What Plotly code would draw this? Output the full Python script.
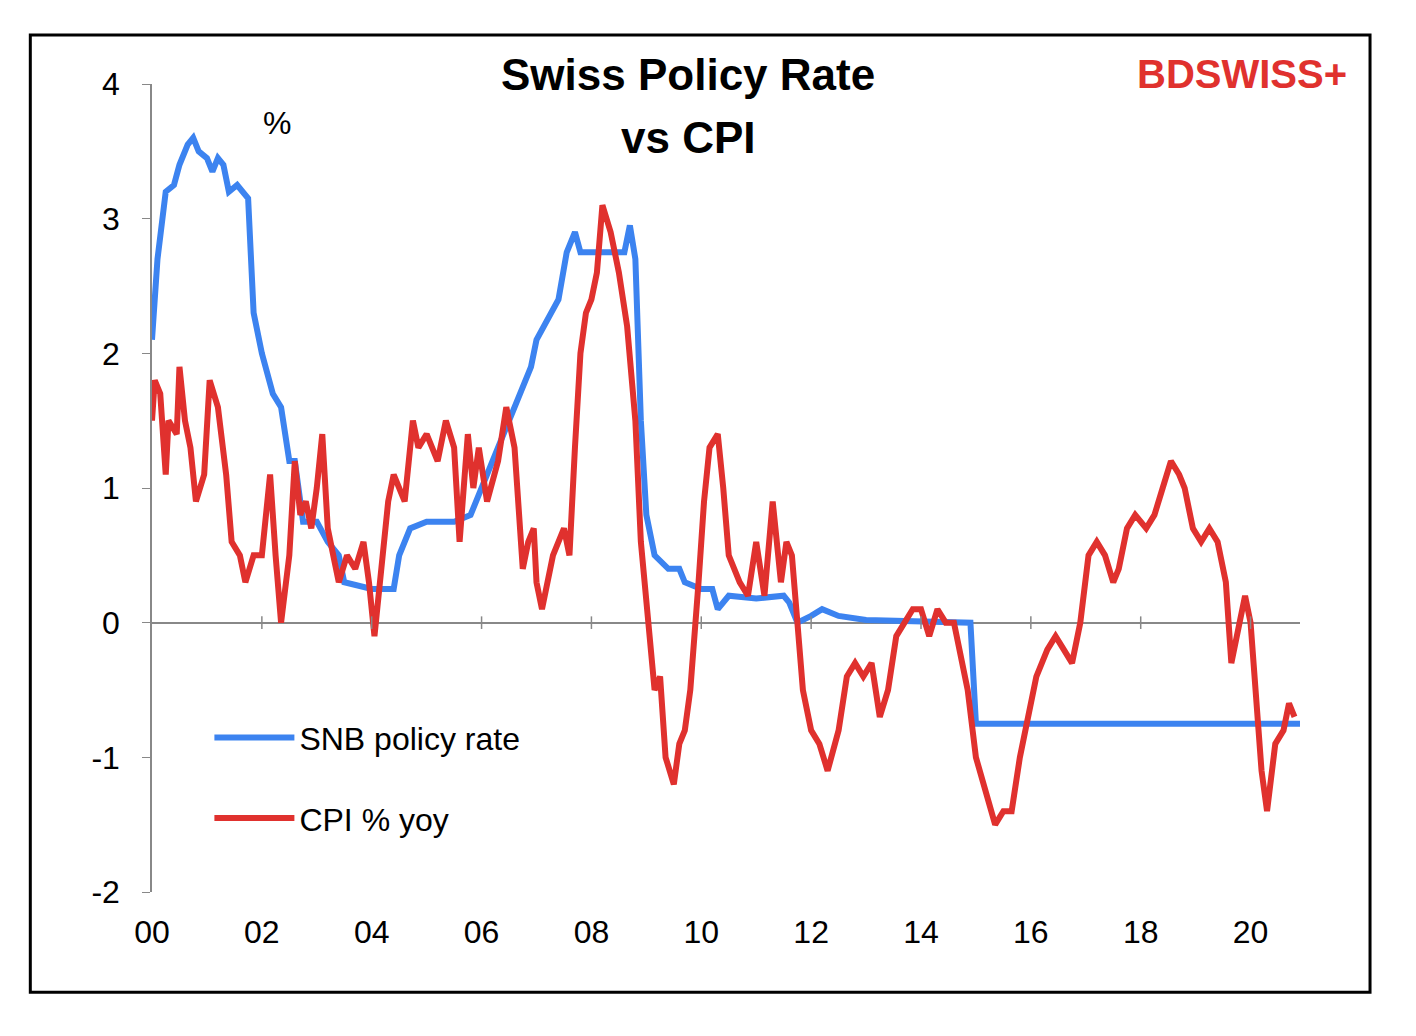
import plotly.graph_objects as go

# SNB policy rate, % (decimal year, value)
snb_x = [2000.0, 2000.1, 2000.25, 2000.4, 2000.5, 2000.65, 2000.75, 2000.85, 2001.0, 2001.1, 2001.2, 2001.3,
         2001.4, 2001.55, 2001.75, 2001.85, 2002.0, 2002.2, 2002.35, 2002.5, 2002.6, 2002.75, 2003.0, 2003.2,
         2003.4, 2003.5, 2004.0, 2004.4, 2004.5, 2004.7, 2005.0, 2005.5, 2005.8, 2006.0, 2006.3, 2006.5,
         2006.7, 2006.9, 2007.0, 2007.2, 2007.4, 2007.55, 2007.7, 2007.8, 2008.0, 2008.6, 2008.7, 2008.8, 2008.9,
         2009.0, 2009.15, 2009.4, 2009.6, 2009.7, 2010.0, 2010.2, 2010.3, 2010.5, 2011.0, 2011.5, 2011.6,
         2011.75, 2012.0, 2012.2, 2012.5, 2013.0, 2014.9, 2015.0, 2020.9]
snb_y = [2.1, 2.7, 3.2, 3.25, 3.4, 3.55, 3.6, 3.5, 3.45, 3.35, 3.45, 3.4,
         3.2, 3.25, 3.15, 2.3, 2.0, 1.7, 1.6, 1.2, 1.2, 0.75, 0.75, 0.6,
         0.5, 0.3, 0.25, 0.25, 0.5, 0.7, 0.75, 0.75, 0.8, 1.0, 1.3, 1.5,
         1.7, 1.9, 2.1, 2.25, 2.4, 2.75, 2.9, 2.75, 2.75, 2.75, 2.95, 2.7, 1.5,
         0.8, 0.5, 0.4, 0.4, 0.3, 0.25, 0.25, 0.1, 0.2, 0.18, 0.2, 0.15,
         0.0, 0.05, 0.1, 0.05, 0.02, 0.0, -0.75, -0.75]

# CPI % yoy (decimal year, value)
cpi_x = [2000.0, 2000.05, 2000.15, 2000.25, 2000.3, 2000.45, 2000.5, 2000.6, 2000.7, 2000.8, 2000.95, 2001.05,
         2001.2, 2001.35, 2001.45, 2001.6, 2001.7, 2001.85, 2002.0, 2002.15, 2002.25, 2002.35, 2002.5, 2002.6,
         2002.7, 2002.8, 2002.9, 2003.0, 2003.1, 2003.2, 2003.3, 2003.4, 2003.55, 2003.7, 2003.85, 2003.95,
         2004.05, 2004.2, 2004.3, 2004.4, 2004.6, 2004.75, 2004.85, 2005.0, 2005.2, 2005.35, 2005.5, 2005.6,
         2005.75, 2005.85, 2005.95, 2006.1, 2006.3, 2006.45, 2006.6, 2006.75, 2006.85, 2006.95, 2007.0, 2007.1,
         2007.3, 2007.5, 2007.6, 2007.7, 2007.8, 2007.9, 2008.0, 2008.1, 2008.2, 2008.35, 2008.5, 2008.65,
         2008.8, 2008.9, 2009.0, 2009.15, 2009.25, 2009.35, 2009.5, 2009.6, 2009.7, 2009.8, 2009.95, 2010.05,
         2010.15, 2010.3, 2010.4, 2010.5, 2010.7, 2010.85, 2011.0, 2011.15, 2011.3, 2011.45, 2011.55, 2011.65,
         2011.75, 2011.85, 2012.0, 2012.15, 2012.3, 2012.5, 2012.65, 2012.8, 2012.95, 2013.1, 2013.25, 2013.4,
         2013.55, 2013.7, 2013.85, 2014.0, 2014.15, 2014.3, 2014.45, 2014.6, 2014.75, 2014.85, 2015.0, 2015.15,
         2015.35, 2015.5, 2015.65, 2015.8, 2015.95, 2016.1, 2016.3, 2016.45, 2016.6, 2016.75, 2016.9, 2017.05,
         2017.2, 2017.35, 2017.5, 2017.6, 2017.75, 2017.9, 2018.1, 2018.25, 2018.4, 2018.55, 2018.7, 2018.8,
         2018.95, 2019.1, 2019.25, 2019.4, 2019.55, 2019.65, 2019.8, 2019.9, 2020.0, 2020.1, 2020.2, 2020.3,
         2020.45, 2020.6, 2020.7, 2020.8]
cpi_y = [1.5, 1.8, 1.7, 1.1, 1.5, 1.4, 1.9, 1.5, 1.3, 0.9, 1.1, 1.8,
         1.6, 1.1, 0.6, 0.5, 0.3, 0.5, 0.5, 1.1, 0.5, 0.0, 0.5, 1.2,
         0.8, 0.9, 0.7, 1.0, 1.4, 0.7, 0.5, 0.3, 0.5, 0.4, 0.6, 0.3,
         -0.1, 0.5, 0.9, 1.1, 0.9, 1.5, 1.3, 1.4, 1.2, 1.5, 1.3, 0.6,
         1.4, 1.0, 1.3, 0.9, 1.2, 1.6, 1.3, 0.4, 0.6, 0.7, 0.3, 0.1,
         0.5, 0.7, 0.5, 1.3, 2.0, 2.3, 2.4, 2.6, 3.1, 2.9, 2.6, 2.2,
         1.5, 0.6, 0.2, -0.5, -0.4, -1.0, -1.2, -0.9, -0.8, -0.5, 0.3, 0.9,
         1.3, 1.4, 1.0, 0.5, 0.3, 0.2, 0.6, 0.2, 0.9, 0.3, 0.6, 0.5,
         0.0, -0.5, -0.8, -0.9, -1.1, -0.8, -0.4, -0.3, -0.4, -0.3, -0.7, -0.5,
         -0.1, 0.0, 0.1, 0.1, -0.1, 0.1, 0.0, 0.0, -0.3, -0.5, -1.0, -1.2,
         -1.5, -1.4, -1.4, -1.0, -0.7, -0.4, -0.2, -0.1, -0.2, -0.3, 0.0, 0.5,
         0.6, 0.5, 0.3, 0.4, 0.7, 0.8, 0.7, 0.8, 1.0, 1.2, 1.1, 1.0,
         0.7, 0.6, 0.7, 0.6, 0.3, -0.3, 0.0, 0.2, 0.0, -0.5, -1.1, -1.4,
         -0.9, -0.8, -0.6, -0.7]

tick_years = list(range(2000, 2021, 2))
tick_labels = ["00", "02", "04", "06", "08", "10", "12", "14", "16", "18", "20"]
y_ticks = [-2, -1, 0, 1, 2, 3, 4]
y_labels = ["-2", "-1", "0", "1", "2", "3", "4"]

FONT = "Liberation Sans, Arial, sans-serif"

fig = go.Figure()
fig.add_trace(go.Scatter(x=snb_x, y=snb_y, mode="lines", name="SNB policy rate", legendgroup="a",
                         line=dict(color="#3c83f0", width=6)))
fig.add_trace(go.Scatter(x=cpi_x, y=cpi_y, mode="lines", name="CPI % yoy", legendgroup="b",
                         line=dict(color="#e0312e", width=6)))
# small tick marks on the zero line
fig.add_trace(go.Scatter(x=tick_years[1:], y=[0] * (len(tick_years) - 1), mode="markers",
                         marker=dict(symbol="line-ns", size=9, line=dict(color="#888", width=1.5)),
                         showlegend=False, hoverinfo="skip"))

fig.update_layout(
    width=1416, height=1036,
    paper_bgcolor="white", plot_bgcolor="white",
    margin=dict(l=144, r=124, t=76, b=152),
    font=dict(family=FONT, size=32, color="black"),
    showlegend=True,
    legend=dict(x=0.05, y=0.225, xanchor="left", yanchor="top", bgcolor="rgba(0,0,0,0)",
                font=dict(size=32), itemwidth=80, tracegroupgap=36),
    xaxis=dict(range=[2000, 2020.9], tickvals=tick_years, ticktext=tick_labels, automargin=False,
               showgrid=False, zeroline=False, showline=False, ticks="", ticklabelstandoff=18),
    yaxis=dict(range=[-2, 4], tickvals=y_ticks, ticktext=y_labels, showgrid=False, automargin=False,
               zeroline=True, zerolinecolor="#888", zerolinewidth=1.5,
               showline=True, linecolor="#888", linewidth=1.5,
               ticks="outside", ticklen=8, tickcolor="#888", ticklabelstandoff=16),
    shapes=[dict(type="rect", xref="paper", yref="paper", x0=-0.106, x1=1.061, y0=-0.124, y1=1.0606,
                 line=dict(color="black", width=3))],
    annotations=[
        dict(text="<b>Swiss Policy Rate</b>", xref="paper", yref="paper", x=0.467, y=1.012,
             xanchor="center", yanchor="middle", showarrow=False, font=dict(size=44)),
        dict(text="<b>vs CPI</b>", xref="paper", yref="paper", x=0.467, y=0.934,
             xanchor="center", yanchor="middle", showarrow=False, font=dict(size=44)),
        dict(text="%", xref="paper", yref="paper", x=0.095, y=0.976, showarrow=False, font=dict(size=32)),
        dict(text="<b>BDSWISS+</b>", xref="paper", yref="paper", x=1.043, y=1.012,
             xanchor="right", yanchor="middle", showarrow=False, font=dict(size=40, color="#e0312e")),
    ],
)

fig.write_html("out.html")
